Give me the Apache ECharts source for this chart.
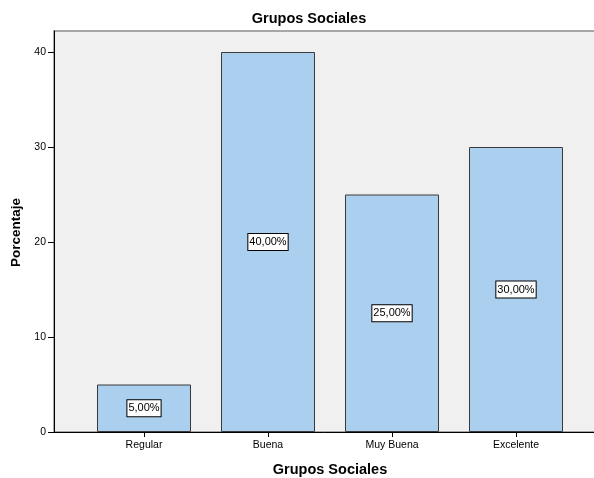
<!DOCTYPE html>
<html>
<head>
<meta charset="utf-8">
<script src="https://cdn.jsdelivr.net/npm/echarts@6/dist/echarts.min.js"></script>
<style>html,body{margin:0;padding:0;background:#fff}#c{width:594px;height:478px}</style>
</head>
<body>
<div id="c"></div>
<script>
const categories = ['Regular', 'Buena', 'Muy Buena', 'Excelente'];
const values = [5, 40, 25, 30];
const yTicks = [0, 10, 20, 30, 40];

const chart = echarts.init(document.getElementById('c'), null, {renderer: 'canvas'});
const font = 'Arial, "Liberation Sans", sans-serif';
chart.setOption({
  animation: false,
  backgroundColor: '#ffffff',
  title: {
    text: 'Grupos Sociales',
    left: 304, top: 6, textAlign: 'center',
    textStyle: {fontFamily: font, fontSize: 14.5, fontWeight: 'bold', color: '#000'}
  },
  grid: [
    {left: 82, right: 16, top: 33, bottom: 46, containLabel: false, outerBoundsMode: 'none'},
    {left: 54, width: 580, top: 31, bottom: 46, show: true, backgroundColor: '#f0f0f0', borderColor: '#8c8c8c', borderWidth: 1.5, z: 0, containLabel: false, outerBoundsMode: 'none'}
  ],
  xAxis: [
    {
      type: 'category', gridIndex: 0, data: categories,
      boundaryGap: true,
      axisLine: {show: false},
      axisTick: {show: true, alignWithLabel: true, length: 5, lineStyle: {color: '#000'}},
      axisLabel: {fontFamily: font, fontSize: 10.5, color: '#000', margin: 8},
      name: 'Grupos Sociales', nameLocation: 'middle', nameGap: 30,
      nameTextStyle: {fontFamily: font, fontSize: 14.5, fontWeight: 'bold', color: '#000'}
    },
    {type: 'value', gridIndex: 1, min: 0, max: 1,
     axisLine: {show: true, lineStyle: {color: '#000', width: 1}},
     axisTick: {show: false}, axisLabel: {show: false}, splitLine: {show: false}}
  ],
  yAxis: [
    {
      type: 'value', gridIndex: 0, min: 0, max: 42, interval: 10, offset: 28,
      axisLine: {show: false},
      axisTick: {show: true, length: 6, lineStyle: {color: '#000'}, customValues: yTicks},
      axisLabel: {fontFamily: font, fontSize: 10.5, color: '#000', margin: 8, customValues: yTicks},
      splitLine: {show: false},
      name: 'Porcentaje', nameLocation: 'middle', nameGap: 28, nameRotate: 90,
      nameTextStyle: {fontFamily: font, fontSize: 13.5, fontWeight: 'bold', color: '#000'}
    },
    {type: 'value', gridIndex: 1, min: 0, max: 1,
     axisLine: {show: true, lineStyle: {color: '#000', width: 1}},
     axisTick: {show: false}, axisLabel: {show: false}, splitLine: {show: false}}
  ],
  series: [{
    type: 'bar', xAxisIndex: 0, yAxisIndex: 0,
    data: values, barWidth: 94, z: 5,
    itemStyle: {color: '#abcfee', borderColor: '#3a3a3a', borderWidth: 1},
    label: {
      show: true, position: 'inside',
      formatter: p => p.value.toFixed(2).replace('.', ',') + '%',
      fontFamily: font, fontSize: 11, color: '#000',
      backgroundColor: '#fff', borderColor: '#000', borderWidth: 1, padding: [3, 1, 2, 1]
    }
  }]
});
</script>
</body>
</html>
